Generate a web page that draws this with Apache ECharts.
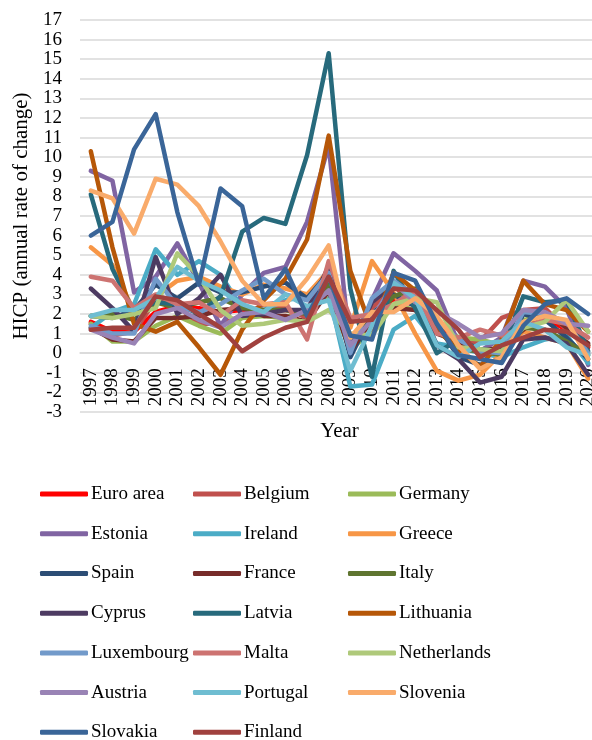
<!DOCTYPE html>
<html>
<head>
<meta charset="utf-8">
<script src="https://cdn.jsdelivr.net/npm/echarts@6/dist/echarts.min.js"></script>
<style>
  html, body { margin: 0; padding: 0; background: #ffffff; }
  #chart { width: 592px; height: 740px; }
</style>
</head>
<body>
<div id="chart"></div>
<script>
// HICP annual rate of change, euro area and member states, 1997-2020
const years = ['1997','1998','1999','2000','2001','2002','2003','2004','2005','2006','2007','2008',
               '2009','2010','2011','2012','2013','2014','2015','2016','2017','2018','2019','2020'];

const euroArea    = [1.6, 1.1, 1.1, 2.1, 2.4, 2.3, 2.1, 2.2, 2.2, 2.2, 2.1, 3.3, 0.3, 1.6, 2.7, 2.5, 1.4, 0.4, 0.2, 0.2, 1.5, 1.8, 1.2, 0.3];
const belgium     = [1.5, 0.9, 1.1, 2.7, 2.4, 1.5, 1.5, 1.9, 2.5, 2.3, 1.8, 4.5, 0.0, 2.3, 3.4, 2.6, 1.2, 0.5, 0.6, 1.8, 2.2, 2.3, 1.2, 0.4];
const germany     = [1.5, 0.6, 0.6, 1.4, 1.9, 1.4, 1.0, 1.8, 1.9, 1.8, 2.3, 2.8, 0.2, 1.1, 2.5, 2.2, 1.6, 0.8, 0.7, 0.4, 1.7, 1.9, 1.4, 0.4];
const estonia     = [9.3, 8.8, 3.1, 3.9, 5.6, 3.6, 1.4, 3.0, 4.1, 4.4, 6.7, 10.6, 0.2, 2.7, 5.1, 4.2, 3.2, 0.5, 0.1, 0.8, 3.7, 3.4, 2.3, -0.6];
const ireland     = [1.3, 2.1, 2.5, 5.3, 4.0, 4.7, 4.0, 2.3, 2.2, 2.7, 2.9, 3.1, -1.7, -1.6, 1.2, 1.9, 0.5, 0.3, 0.0, -0.2, 0.3, 0.7, 0.9, -0.5];
const greece      = [5.4, 4.5, 2.1, 2.9, 3.7, 3.9, 3.4, 3.0, 3.5, 3.3, 3.0, 4.2, 1.3, 4.7, 3.1, 1.0, -0.9, -1.4, -1.1, 0.0, 1.1, 0.8, 0.5, -1.3];
const spain       = [1.9, 1.8, 2.2, 3.5, 2.8, 3.6, 3.1, 3.1, 3.4, 3.6, 2.8, 4.1, -0.2, 2.0, 3.0, 2.4, 1.5, -0.2, -0.6, -0.3, 2.0, 1.7, 0.8, -0.3];
const france      = [1.3, 0.7, 0.6, 1.8, 1.8, 1.9, 2.2, 2.3, 1.9, 1.9, 1.6, 3.2, 0.1, 1.7, 2.3, 2.2, 1.0, 0.6, 0.1, 0.3, 1.2, 2.1, 1.3, 0.5];
const italy       = [1.9, 2.0, 1.7, 2.6, 2.3, 2.6, 2.8, 2.3, 2.2, 2.2, 2.0, 3.5, 0.8, 1.6, 2.9, 3.3, 1.2, 0.2, 0.1, -0.1, 1.3, 1.2, 0.6, -0.1];
const cyprus      = [3.3, 2.3, 1.1, 4.9, 2.0, 2.8, 4.0, 1.9, 2.0, 2.2, 2.2, 4.4, 0.2, 2.6, 3.5, 3.1, 0.4, -0.3, -1.5, -1.2, 0.7, 0.8, 0.5, -1.1];
const latvia      = [8.1, 4.3, 2.1, 2.6, 2.5, 2.0, 2.9, 6.2, 6.9, 6.6, 10.1, 15.3, 3.3, -1.2, 4.2, 2.3, 0.0, 0.7, 0.2, 0.1, 2.9, 2.6, 2.7, 0.1];
const lithuania   = [10.3, 5.4, 1.5, 1.1, 1.6, 0.3, -1.1, 1.2, 2.7, 3.8, 5.8, 11.1, 4.2, 1.2, 4.1, 3.2, 1.2, 0.2, -0.7, 0.7, 3.7, 2.5, 2.2, 1.1];
const luxembourg  = [1.4, 1.0, 1.0, 3.8, 2.4, 2.1, 2.5, 3.2, 3.8, 3.0, 2.7, 4.1, 0.0, 2.8, 3.7, 2.9, 1.7, 0.7, 0.1, 0.0, 2.1, 2.0, 1.6, 0.0];
const malta       = [3.9, 3.7, 2.3, 3.0, 2.5, 2.6, 1.9, 2.7, 2.5, 2.6, 0.7, 4.7, 1.8, 2.0, 2.5, 3.2, 1.0, 0.8, 1.2, 0.9, 1.3, 1.7, 1.5, 0.8];
const netherlands = [1.9, 1.8, 2.0, 2.3, 5.1, 3.9, 2.2, 1.4, 1.5, 1.7, 1.6, 2.2, 1.0, 0.9, 2.5, 2.8, 2.6, 0.3, 0.2, 0.1, 1.3, 1.6, 2.7, 1.1];
const austria     = [1.2, 0.8, 0.5, 2.0, 2.3, 1.7, 1.3, 2.0, 2.1, 1.7, 2.2, 3.2, 0.4, 1.7, 3.6, 2.6, 2.1, 1.5, 0.8, 1.0, 2.2, 2.1, 1.5, 1.4];
const portugal    = [1.9, 2.2, 2.2, 2.8, 4.4, 3.7, 3.2, 2.5, 2.1, 3.0, 2.4, 2.7, -0.9, 1.4, 3.6, 2.8, 0.4, -0.2, 0.5, 0.6, 1.6, 1.2, 0.3, -0.1];
const slovenia    = [8.3, 7.9, 6.1, 8.9, 8.6, 7.5, 5.7, 3.7, 2.5, 2.5, 3.8, 5.5, 0.8, 2.1, 2.1, 2.8, 1.9, 0.4, -0.8, -0.2, 1.6, 1.9, 1.7, -0.3];
const slovakia    = [6.0, 6.7, 10.4, 12.2, 7.2, 3.5, 8.4, 7.5, 2.8, 4.3, 1.9, 3.9, 0.9, 0.7, 4.1, 3.7, 1.5, -0.1, -0.3, -0.5, 1.4, 2.5, 2.8, 2.0];
const finland     = [1.2, 1.3, 1.3, 2.9, 2.7, 2.0, 1.3, 0.1, 0.8, 1.3, 1.6, 3.9, 1.6, 1.7, 3.3, 3.2, 2.2, 1.2, -0.2, 0.4, 0.8, 1.2, 1.1, 0.4];

const yTicks = { min: -3, max: 17, step: 1 };

const seriesNames = ['Euro area', 'Belgium', 'Germany', 'Estonia', 'Ireland', 'Greece', 'Spain', 'France', 'Italy',
                     'Cyprus', 'Latvia', 'Lithuania', 'Luxembourg', 'Malta', 'Netherlands', 'Austria', 'Portugal',
                     'Slovenia', 'Slovakia', 'Finland'];
const seriesValues = [euroArea, belgium, germany, estonia, ireland, greece, spain, france, italy,
                      cyprus, latvia, lithuania, luxembourg, malta, netherlands, austria, portugal,
                      slovenia, slovakia, finland];
const seriesColors = ['#FF0000', '#C0504D', '#9BBB59', '#8064A2', '#4BACC6', '#F79646', '#2C4D75', '#772C2A', '#5F7530',
                      '#4D3B62', '#276A7C', '#B65708', '#729ACA', '#CD7371', '#AFC97A', '#9983B5', '#6FBDD1',
                      '#F9AB6B', '#3A6598', '#A0413E'];

const FONT = "'Liberation Serif', 'Times New Roman', serif";

// plot box: 17 at the top edge, -3 at the bottom edge
const GRID_TOP = 20;
const GRID_HEIGHT = 392;
// the category axis sits on the zero line, so shift it up from the bottom edge
const zeroShift = GRID_HEIGHT * (0 - yTicks.min) / (yTicks.max - yTicks.min);

// legend laid out as three columns, filled row by row
const legendColumns = [[], [], []];
seriesNames.forEach((n, i) => legendColumns[i % 3].push(n));
const legendLefts = [40, 193, 348];

const legends = legendColumns.map((names, c) => ({
  data: names,
  orient: 'vertical',
  left: legendLefts[c],
  top: 484.6,
  height: 320,
  itemWidth: 48,
  itemHeight: 5,
  itemGap: 20.7,
  icon: 'roundRect',
  selectedMode: false,
  padding: 0,
  textStyle: { fontFamily: FONT, fontSize: 19, color: '#000', padding: [0, 0, 0, -2] }
}));

const chart = echarts.init(document.getElementById('chart'), null, { renderer: 'canvas' });

chart.setOption({
  backgroundColor: '#ffffff',
  animation: false,
  color: seriesColors,
  legend: legends,
  grid: { left: 80, top: GRID_TOP, width: 519, height: GRID_HEIGHT, outerBoundsMode: 'none', containLabel: false },
  xAxis: {
    type: 'category',
    data: years,
    boundaryGap: true,
    position: 'bottom',
    offset: -zeroShift,
    name: 'Year',
    nameLocation: 'middle',
    nameGap: 68,
    nameTextStyle: { fontFamily: FONT, fontSize: 21, color: '#000' },
    axisLine: { show: true, onZero: false, lineStyle: { color: '#D9D9D9', width: 1.5 } },
    axisTick: { show: false },
    axisLabel: { interval: 0, rotate: 90, margin: 15, fontFamily: FONT, fontSize: 19, color: '#000' },
    splitLine: { show: false }
  },
  yAxis: {
    type: 'value',
    min: yTicks.min,
    max: yTicks.max,
    interval: yTicks.step,
    name: 'HICP (annual rate of change)',
    nameLocation: 'middle',
    nameGap: 43,
    nameTextStyle: { fontFamily: FONT, fontSize: 21, color: '#000' },
    axisLine: { show: false },
    axisTick: { show: false },
    axisLabel: { margin: 18, fontFamily: FONT, fontSize: 19, color: '#000' },
    splitLine: { show: true, lineStyle: { color: '#D9D9D9', width: 1.5 } }
  },
  series: seriesNames.map((name, i) => ({
    name: name,
    type: 'line',
    data: seriesValues[i],
    showSymbol: false,
    symbol: 'none',
    lineStyle: { width: 4.5, color: seriesColors[i], cap: 'round', join: 'round' },
    itemStyle: { color: seriesColors[i] },
    z: 2 + i * 0.01
  }))
});
</script>
</body>
</html>
